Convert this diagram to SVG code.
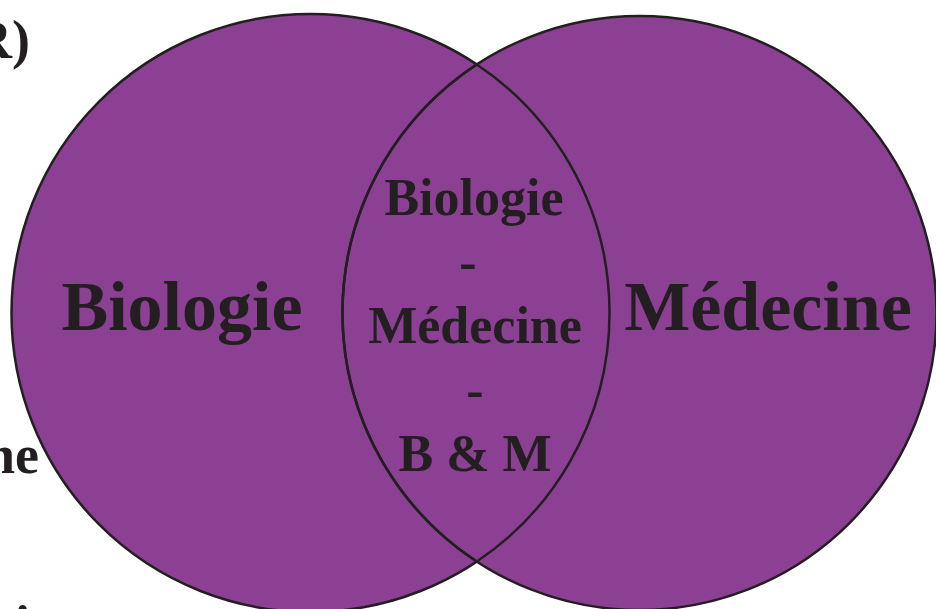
<svg xmlns="http://www.w3.org/2000/svg" width="936" height="609" viewBox="0 0 936 609">
  <style>
    .set { fill: #8C4094; stroke: #231F20; stroke-width: 2.5; }
    .outline { fill: none; stroke: #231F20; stroke-width: 2.5; }
    text { font-family: "Liberation Serif", "Times New Roman", serif; font-weight: bold; fill: #231F20; }
    .big { font-size: 70px; text-anchor: middle; }
    .mid { font-size: 52px; text-anchor: middle; }
    .edge { font-size: 54px; text-anchor: end; }
  </style>
  <rect width="936" height="609" fill="#ffffff"/>
  <g id="background-text">
    <text class="edge" x="30" y="58">R)</text>
    <text class="edge" x="39" y="473">ne</text>
    <text class="edge" x="30" y="643">i</text>
  </g>
  <g id="set-biologie">
    <circle class="set" cx="310.5" cy="313" r="299"/>
    <text class="big" x="182" y="330">Biologie</text>
  </g>
  <g id="set-medecine">
    <circle class="set" cx="639.5" cy="313" r="297"/>
    <text class="big" x="768" y="330">Médecine</text>
  </g>
  <g id="intersection">
    <path class="outline" d="M476.8,64.5 A299,299 0 0 1 476.8,561.5 A297,297 0 0 1 476.8,64.5 Z"/>
    <text class="mid" x="474" y="215">Biologie</text>
    <text class="mid" x="468" y="279">-</text>
    <text class="mid" x="475" y="343">Médecine</text>
    <text class="mid" x="475" y="407">-</text>
    <text class="mid" x="475" y="471">B &amp; M</text>
  </g>
  <g id="connectors"/>
</svg>
